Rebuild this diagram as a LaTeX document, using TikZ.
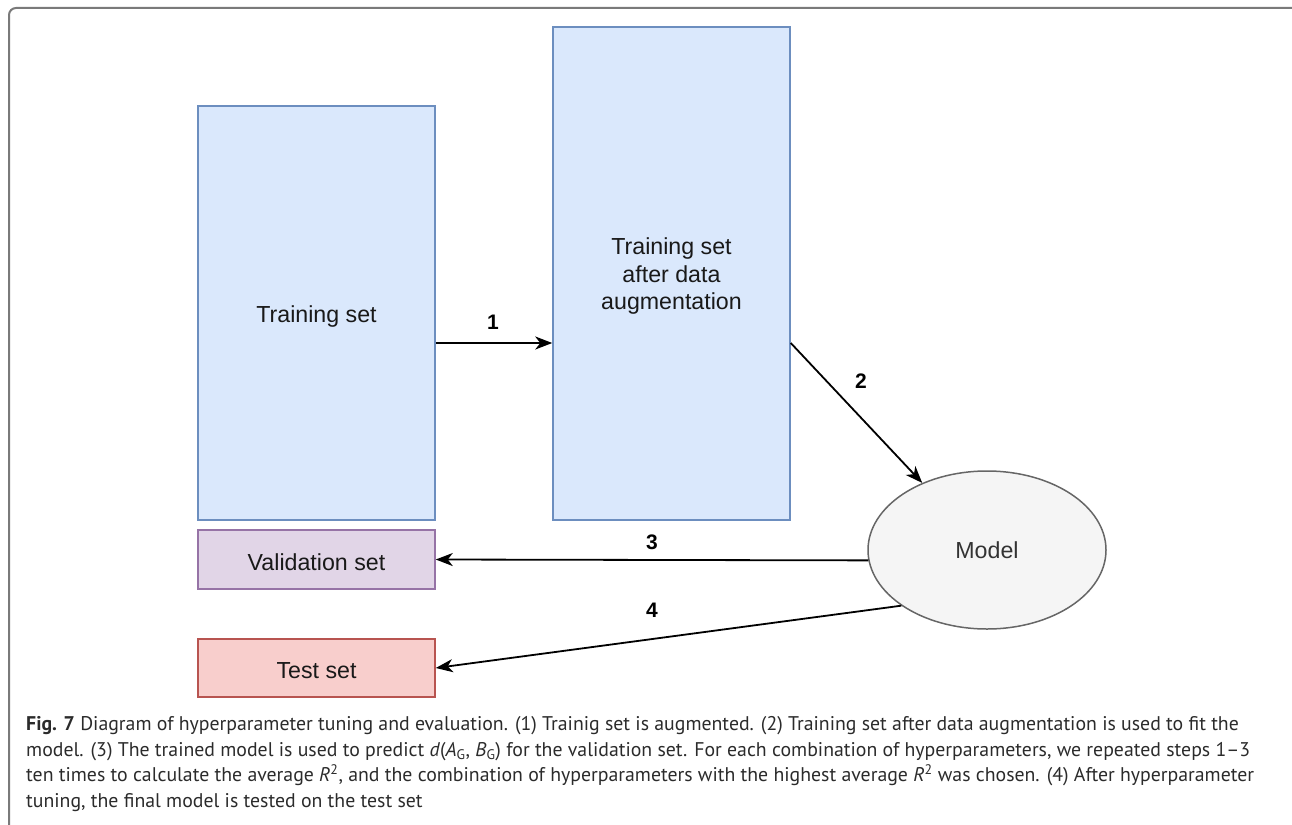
\documentclass[tikz,border=0pt]{standalone}
\usepackage{fontspec}
\setmainfont{Liberation Sans}
\newfontfamily\capfont[Ligatures=TeX]{PT Sans}
\usetikzlibrary{arrows.meta,shapes.geometric}

\definecolor{blueFill}{HTML}{DAE8FC}
\definecolor{blueLine}{HTML}{6C8EBF}
\definecolor{purpleFill}{HTML}{E1D5E7}
\definecolor{purpleLine}{HTML}{9673A6}
\definecolor{redFill}{HTML}{F8CECC}
\definecolor{redLine}{HTML}{B85450}
\definecolor{grayFill}{HTML}{F5F5F5}
\definecolor{grayLine}{HTML}{666666}
\definecolor{frameLine}{HTML}{7A7A7A}
\definecolor{capText}{HTML}{2B2B2B}

% lower a label a little without changing its box
\newcommand{\droptext}[1]{\raisebox{-3pt}[\height][\depth]{#1}}

\tikzset{
  setbox/.style={rectangle, draw=#1Line, fill=#1Fill, line width=1.5pt,
    inner sep=0pt, minimum width=237pt, align=center,
    font=\fontsize{23.2}{27.5}\selectfont, text=black!90},
  modelnode/.style={ellipse, draw=grayLine, fill=grayFill, line width=1.5pt,
    minimum width=238pt, minimum height=158pt, inner sep=0pt,
    font=\fontsize{23.2}{27.5}\selectfont, text=black!80},
  flow/.style={line width=1.8pt, -{Stealth[length=17pt,width=13pt,inset=5pt]}},
  steplabel/.style={font=\bfseries\fontsize{21}{25}\selectfont, inner sep=0pt}
}

\begin{document}
\begin{tikzpicture}[x=1pt,y=-1pt]
\useasboundingbox (0,0) rectangle (1292,824);

% outer frame
\draw[frameLine, line width=2pt, rounded corners=7pt] (9,830) -- (9,8) -- (1298,8);

% data sets
\node[setbox=blue, minimum height=414pt] (train) at (316.5,313) {\droptext{Training set}};
\node[setbox=blue, minimum height=493pt] (aug) at (671.5,273.5)
  {\droptext{\begin{tabular}{@{}c@{}}Training set\\[0pt]after data\\[0pt]augmentation\end{tabular}}};
\node[setbox=purple, minimum height=59pt] (val) at (316.5,559.5) {\droptext{Validation set}};
\node[setbox=red, minimum height=58pt] (test) at (316.5,668) {\droptext{Test set}};
\node[modelnode] (model) at (987,550) {Model};

% workflow
\draw[flow] ([yshift=-30pt]train.east) -- ([yshift=-69.5pt]aug.west);
\draw[flow] ([yshift=-69.5pt]aug.east) -- (model.134);
\draw[flow] (model.185) -- (val.east);
\draw[flow] (model.213) -- (test.east);

\node[steplabel] (l1) at (493,322) {1};
\node[steplabel] (l2) at (861,381) {2};
\node[steplabel] (l3) at (652,542) {3};
\node[steplabel] (l4) at (652,610) {4};

% caption
\node[anchor=north west, inner sep=0pt, align=left, text=capText,
      font=\capfont\fontsize{19.8}{25.7}\selectfont] (caption) at (26,716)
{\textbf{Fig. 7} Diagram of hyperparameter tuning and evaluation. (1) Trainig set is augmented. (2) Training set after data augmentation is used to fit the\\
model. (3) The trained model is used to predict \textit{d}(\textit{A}\textsubscript{G}, \textit{B}\textsubscript{G}) for the validation set. For each combination of hyperparameters, we repeated steps 1–3\\
ten times to calculate the average \textit{R}\textsuperscript{2}, and the combination of hyperparameters with the highest average \textit{R}\textsuperscript{2} was chosen. (4) After hyperparameter\\
tuning, the final model is tested on the test set};
\end{tikzpicture}
\end{document}
